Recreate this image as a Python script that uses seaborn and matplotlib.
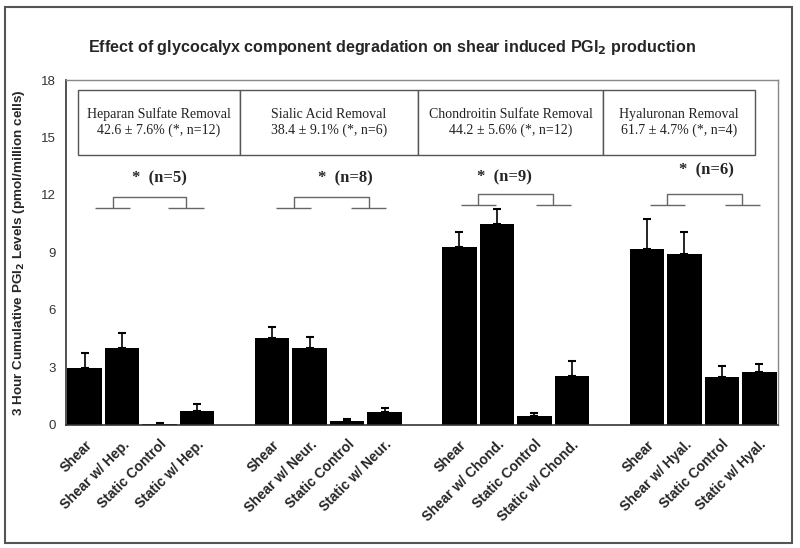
import numpy as np
import pandas as pd
import matplotlib
matplotlib.use("Agg")
import matplotlib.pyplot as plt
import seaborn as sns

# values
conditions = ["Shear", "Shear w/ {}", "Static Control", "Static w/ {}"]
enzymes = ["Hep.", "Neur.", "Chond.", "Hyal."]
means = [2.95, 4.04, 0.05, 0.75,
         4.54, 4.04, 0.22, 0.66,
         9.28, 10.47, 0.49, 2.57,
         9.19, 8.91, 2.51, 2.76]
upper = [3.78, 4.80, 0.08, 1.09,
         5.12, 4.60, 0.29, 0.87,
         10.09, 11.25, 0.61, 3.35,
         10.75, 10.09, 3.07, 3.19]
box_titles = ["Heparan Sulfate Removal", "Sialic Acid Removal",
              "Chondroitin Sulfate Removal", "Hyaluronan Removal"]
box_stats = ["42.6 \u00b1 7.6% (*, n=12)", "38.4 \u00b1 9.1% (*, n=6)",
             "44.2 \u00b1 5.6% (*, n=12)", "61.7 \u00b1 4.7% (*, n=4)"]
n_labels = ["*  (n=5)", "*  (n=8)", "*  (n=9)", "*  (n=6)"]

# build table: 4 groups of 4 bars with one empty slot in between
pos, labels = [], []
for g, enz in enumerate(enzymes):
    for c, cond in enumerate(conditions):
        pos.append(g * 5 + c)
        labels.append(cond.format(enz))
df = pd.DataFrame({"pos": pos, "label": labels, "mean": means, "upper": upper})
df["err"] = df["upper"] - df["mean"]

sns.set_style("white")
plt.rcParams["font.family"] = ["Liberation Sans", "DejaVu Sans"]

fig = plt.figure(figsize=(8, 5.48), dpi=100)
ax = fig.add_axes([0.0825, 0.2245, 0.89, 0.6295])

sns.barplot(data=df, x="pos", y="mean", native_scale=True, width=0.92,
            color="black", saturation=1, edgecolor="black", linewidth=0, ax=ax)
ax.errorbar(df["pos"], df["mean"], yerr=[np.zeros(len(df)), df["err"]],
            fmt="none", ecolor="black", elinewidth=1.2, capsize=3, capthick=1.5)

ax.set_xlim(-0.5, 18.5)
ax.set_ylim(0, 18)
ax.set_yticks([0, 3, 6, 9, 12, 15, 18])
ax.set_xticks(df["pos"])
ax.set_xticklabels(df["label"], rotation=45, ha="right", rotation_mode="anchor",
                   fontsize=10, fontweight="bold")
ax.set_xticks(np.arange(-0.5, 19, 1), minor=True)
ax.tick_params(axis="x", which="major", length=0, pad=9)
ax.tick_params(axis="x", which="minor", length=4, width=1, color="#444", direction="out")
ax.tick_params(axis="y", length=4, width=1, color="#444", direction="out",
               labelsize=9.5, labelcolor="#333")
ax.set_xlabel("")
ax.set_ylabel("3 Hour Cumulative PGI$_\\mathbf{2}$ Levels (pmol/million cells)",
              fontsize=9.7, fontweight="bold", labelpad=10)
for side in ["left", "bottom"]:
    ax.spines[side].set_color("#333")
    ax.spines[side].set_linewidth(1.2)
for side in ["top", "right"]:
    ax.spines[side].set_color("#888")
    ax.spines[side].set_linewidth(1.0)

# removal boxes at the top
cells = [f"{t}\n{s}" for t, s in zip(box_titles, box_stats)]
tab = ax.table(cellText=[cells], colWidths=[0.239, 0.263, 0.273, 0.225],
               cellLoc="center", bbox=[0.017, 0.783, 0.951, 0.189])
tab.auto_set_font_size(False)
for cell in tab.get_celld().values():
    cell.set_edgecolor("#555")
    cell.set_linewidth(1.0)
    cell.get_text().set_fontfamily("Liberation Serif")
    cell.get_text().set_fontsize(10)
    cell.get_text().set_color("#222")

# significance brackets
bar_y = [11.3, 11.3, 11.47, 11.47]
legs = [(0.75, 2.7), (0.58, 2.58), (0.5, 2.5), (0.55, 2.55)]
text_x = [2.0, 1.95, 1.2, 1.6]
text_y = [12.45, 12.45, 12.5, 12.85]
for g in range(4):
    s = g * 5
    y0, y1 = bar_y[g], bar_y[g] + 0.6
    l, r = s + legs[g][0], s + legs[g][1]
    kw = dict(color="#666", lw=1.0, solid_capstyle="butt")
    ax.plot([l - 0.47, l + 0.47], [y0, y0], **kw)
    ax.plot([r - 0.47, r + 0.47], [y0, y0], **kw)
    ax.plot([l, l, r, r], [y0, y1, y1, y0], **kw)
    ax.text(s + text_x[g], text_y[g], n_labels[g], ha="center", va="bottom",
            fontsize=12, fontweight="bold", fontfamily="Liberation Serif")

fig.suptitle("Effect of glycocalyx component degradation on shear induced PGI$_\\mathbf{2}$ production",
             x=0.49, y=0.93, fontsize=11.6, fontweight="bold")

# outer frame
fig.patches.append(plt.Rectangle((0.006, 0.009), 0.984, 0.978, transform=fig.transFigure,
                                 fill=False, edgecolor="#555", linewidth=1.5))

fig.savefig("out.png", dpi=100)
